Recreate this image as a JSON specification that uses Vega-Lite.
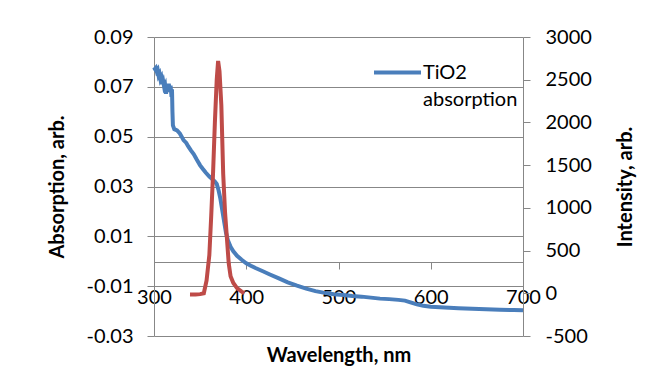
{
  "$schema": "https://vega.github.io/schema/vega-lite/v6.json",
  "width": 369,
  "height": 299,
  "autosize": {"type": "none"},
  "padding": {"left": 154, "top": 37, "right": 131, "bottom": 52},
  "background": "white",
  "config": {
    "view": {"stroke": null},
    "font": "Lato",
    "style": {"guide-label": {"lineHeight": 27}}
  },
  "datasets": {
    "abs": [
      {"wl": 300, "a": 0.0778, "s": "TiO2 absorption"},
      {"wl": 301, "a": 0.0772, "s": "TiO2 absorption"},
      {"wl": 302, "a": 0.0776, "s": "TiO2 absorption"},
      {"wl": 303, "a": 0.0762, "s": "TiO2 absorption"},
      {"wl": 304, "a": 0.0768, "s": "TiO2 absorption"},
      {"wl": 305, "a": 0.0745, "s": "TiO2 absorption"},
      {"wl": 306, "a": 0.0752, "s": "TiO2 absorption"},
      {"wl": 307, "a": 0.0730, "s": "TiO2 absorption"},
      {"wl": 308, "a": 0.0738, "s": "TiO2 absorption"},
      {"wl": 309, "a": 0.0712, "s": "TiO2 absorption"},
      {"wl": 310, "a": 0.0722, "s": "TiO2 absorption"},
      {"wl": 311, "a": 0.0700, "s": "TiO2 absorption"},
      {"wl": 312, "a": 0.0708, "s": "TiO2 absorption"},
      {"wl": 313, "a": 0.0672, "s": "TiO2 absorption"},
      {"wl": 314, "a": 0.0700, "s": "TiO2 absorption"},
      {"wl": 315, "a": 0.0680, "s": "TiO2 absorption"},
      {"wl": 316, "a": 0.0712, "s": "TiO2 absorption"},
      {"wl": 317, "a": 0.0690, "s": "TiO2 absorption"},
      {"wl": 318, "a": 0.0705, "s": "TiO2 absorption"},
      {"wl": 319, "a": 0.0660, "s": "TiO2 absorption"},
      {"wl": 319.5, "a": 0.0690, "s": "TiO2 absorption"},
      {"wl": 320, "a": 0.0600, "s": "TiO2 absorption"},
      {"wl": 320.5, "a": 0.0545, "s": "TiO2 absorption"},
      {"wl": 322, "a": 0.0530, "s": "TiO2 absorption"},
      {"wl": 325, "a": 0.0525, "s": "TiO2 absorption"},
      {"wl": 328, "a": 0.0513, "s": "TiO2 absorption"},
      {"wl": 330, "a": 0.0500, "s": "TiO2 absorption"},
      {"wl": 332, "a": 0.0486, "s": "TiO2 absorption"},
      {"wl": 335, "a": 0.0475, "s": "TiO2 absorption"},
      {"wl": 337, "a": 0.0462, "s": "TiO2 absorption"},
      {"wl": 340, "a": 0.0445, "s": "TiO2 absorption"},
      {"wl": 343, "a": 0.0430, "s": "TiO2 absorption"},
      {"wl": 346, "a": 0.0410, "s": "TiO2 absorption"},
      {"wl": 350, "a": 0.0385, "s": "TiO2 absorption"},
      {"wl": 353, "a": 0.0370, "s": "TiO2 absorption"},
      {"wl": 356, "a": 0.0356, "s": "TiO2 absorption"},
      {"wl": 360, "a": 0.0340, "s": "TiO2 absorption"},
      {"wl": 363, "a": 0.0330, "s": "TiO2 absorption"},
      {"wl": 366, "a": 0.0320, "s": "TiO2 absorption"},
      {"wl": 368, "a": 0.0310, "s": "TiO2 absorption"},
      {"wl": 370, "a": 0.0285, "s": "TiO2 absorption"},
      {"wl": 372, "a": 0.0250, "s": "TiO2 absorption"},
      {"wl": 374, "a": 0.0205, "s": "TiO2 absorption"},
      {"wl": 376, "a": 0.0160, "s": "TiO2 absorption"},
      {"wl": 378, "a": 0.0115, "s": "TiO2 absorption"},
      {"wl": 380, "a": 0.0085, "s": "TiO2 absorption"},
      {"wl": 383, "a": 0.0058, "s": "TiO2 absorption"},
      {"wl": 386, "a": 0.0040, "s": "TiO2 absorption"},
      {"wl": 390, "a": 0.0022, "s": "TiO2 absorption"},
      {"wl": 395, "a": 0.0006, "s": "TiO2 absorption"},
      {"wl": 400, "a": -0.0008, "s": "TiO2 absorption"},
      {"wl": 405, "a": -0.0018, "s": "TiO2 absorption"},
      {"wl": 410, "a": -0.0027, "s": "TiO2 absorption"},
      {"wl": 418, "a": -0.0040, "s": "TiO2 absorption"},
      {"wl": 425, "a": -0.0052, "s": "TiO2 absorption"},
      {"wl": 436, "a": -0.0070, "s": "TiO2 absorption"},
      {"wl": 445, "a": -0.0085, "s": "TiO2 absorption"},
      {"wl": 455, "a": -0.0098, "s": "TiO2 absorption"},
      {"wl": 465, "a": -0.0110, "s": "TiO2 absorption"},
      {"wl": 475, "a": -0.0120, "s": "TiO2 absorption"},
      {"wl": 485, "a": -0.0127, "s": "TiO2 absorption"},
      {"wl": 495, "a": -0.0132, "s": "TiO2 absorption"},
      {"wl": 505, "a": -0.0135, "s": "TiO2 absorption"},
      {"wl": 515, "a": -0.0139, "s": "TiO2 absorption"},
      {"wl": 525, "a": -0.0142, "s": "TiO2 absorption"},
      {"wl": 535, "a": -0.0146, "s": "TiO2 absorption"},
      {"wl": 545, "a": -0.0150, "s": "TiO2 absorption"},
      {"wl": 555, "a": -0.0152, "s": "TiO2 absorption"},
      {"wl": 565, "a": -0.0155, "s": "TiO2 absorption"},
      {"wl": 572, "a": -0.0158, "s": "TiO2 absorption"},
      {"wl": 578, "a": -0.0165, "s": "TiO2 absorption"},
      {"wl": 585, "a": -0.0173, "s": "TiO2 absorption"},
      {"wl": 592, "a": -0.0179, "s": "TiO2 absorption"},
      {"wl": 600, "a": -0.0183, "s": "TiO2 absorption"},
      {"wl": 610, "a": -0.0185, "s": "TiO2 absorption"},
      {"wl": 620, "a": -0.0187, "s": "TiO2 absorption"},
      {"wl": 630, "a": -0.0189, "s": "TiO2 absorption"},
      {"wl": 645, "a": -0.0191, "s": "TiO2 absorption"},
      {"wl": 660, "a": -0.0193, "s": "TiO2 absorption"},
      {"wl": 675, "a": -0.0195, "s": "TiO2 absorption"},
      {"wl": 690, "a": -0.0196, "s": "TiO2 absorption"},
      {"wl": 700, "a": -0.0197, "s": "TiO2 absorption"}
    ],
    "pl": [
      {"wl": 339, "i": -15},
      {"wl": 345, "i": -15},
      {"wl": 350, "i": -10},
      {"wl": 354, "i": 0},
      {"wl": 357, "i": 150},
      {"wl": 360, "i": 450},
      {"wl": 362, "i": 900},
      {"wl": 364, "i": 1400},
      {"wl": 366, "i": 2000},
      {"wl": 368, "i": 2500},
      {"wl": 369.5, "i": 2720},
      {"wl": 371, "i": 2600},
      {"wl": 373, "i": 2200},
      {"wl": 375, "i": 1400},
      {"wl": 377, "i": 950},
      {"wl": 379, "i": 650},
      {"wl": 381, "i": 350},
      {"wl": 383, "i": 200},
      {"wl": 386, "i": 120},
      {"wl": 390, "i": 60},
      {"wl": 395, "i": 20},
      {"wl": 398, "i": 0}
    ]
  },
  "layer": [
    {
      "data": {"name": "abs"},
      "mark": {"type": "line", "strokeWidth": 4},
      "encoding": {
        "x": {
          "field": "wl", "type": "quantitative",
          "scale": {"domain": [300, 700], "nice": false, "zero": false},
          "axis": {
            "title": "Wavelength, nm",
            "values": [300, 400, 500, 600, 700],
            "offset": -74,
            "grid": false,
            "domainColor": "#878787",
            "tickColor": "#878787",
            "tickSize": 7,
            "labelPadding": 18,
            "labelFontSize": 20,
            "labelColor": "#000000",
            "labelFlush": false,
            "labelOverlap": false,
            "titleFontSize": 20,
            "titleFontWeight": "bold",
            "titleColor": "#000000",
            "titleX": 184.5,
            "titleY": 93,
            "titleBaseline": "middle",
            "titleAlign": "center"
          }
        },
        "y": {
          "field": "a", "type": "quantitative",
          "scale": {"domain": [-0.03, 0.09], "nice": false, "zero": false},
          "axis": {
            "title": "Absorption, arb.",
            "values": [-0.03, -0.01, 0.01, 0.03, 0.05, 0.07, 0.09],
            "labelExpr": "replace(format(datum.value, '.2f'), '\u2212', '-')",
            "grid": true,
            "gridColor": "#878787",
            "gridOpacity": 1,
            "domainColor": "#878787",
            "tickColor": "#878787",
            "tickSize": 7,
            "labelPadding": 14,
            "labelFontSize": 20,
            "labelColor": "#000000",
            "labelFlush": false,
            "labelOverlap": false,
            "titleFontSize": 20,
            "titleFontWeight": "bold",
            "titleColor": "#000000",
            "titleAngle": 270,
            "titleX": -97,
            "titleY": 149.5,
            "titleBaseline": "middle",
            "titleAlign": "center"
          }
        },
        "color": {
          "field": "s", "type": "nominal",
          "scale": {"domain": ["TiO2 absorption"], "range": ["#4A7EBB"]},
          "legend": {
            "orient": "none",
            "legendX": 218,
            "legendY": 10,
            "title": null,
            "padding": 0,
            "symbolType": "stroke",
            "symbolSize": 2209,
            "symbolStrokeWidth": 4,
            "labelFontSize": 20,
            "labelColor": "#000000",
            "labelOffset": 0,
            "labelLimit": 300,
            "labelExpr": "['TiO2', 'absorption']"
          }
        }
      }
    },
    {
      "data": {"name": "pl"},
      "mark": {"type": "line", "strokeWidth": 4, "color": "#BE4B48"},
      "encoding": {
        "x": {"field": "wl", "type": "quantitative"},
        "y": {
          "field": "i", "type": "quantitative",
          "scale": {"domain": [-500, 3000], "nice": false, "zero": false},
          "axis": {
            "orient": "right",
            "title": "Intensity, arb.",
            "values": [-500, 0, 500, 1000, 1500, 2000, 2500, 3000],
            "labelExpr": "replace(format(datum.value, 'd'), '\u2212', '-')",
            "grid": false,
            "domainColor": "#878787",
            "tickColor": "#878787",
            "tickSize": 7,
            "labelPadding": 15,
            "labelFontSize": 20,
            "labelColor": "#000000",
            "labelFlush": false,
            "labelOverlap": false,
            "titleFontSize": 20,
            "titleFontWeight": "bold",
            "titleColor": "#000000",
            "titleAngle": 270,
            "titleX": 102,
            "titleY": 149.5,
            "titleBaseline": "middle",
            "titleAlign": "center"
          }
        }
      }
    }
  ],
  "resolve": {"scale": {"y": "independent"}}
}
